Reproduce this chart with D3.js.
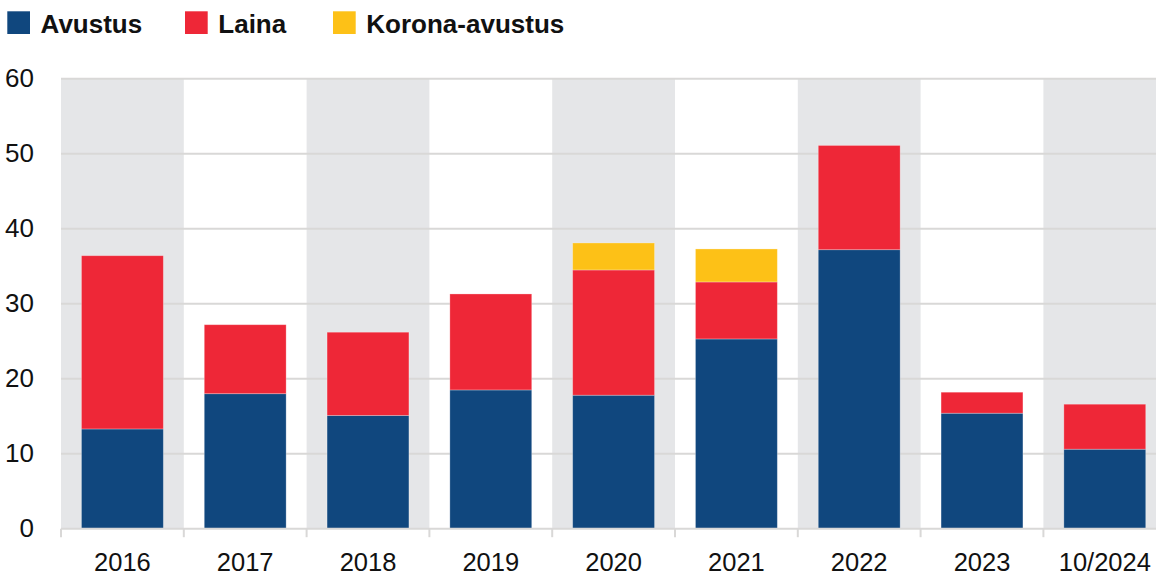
<!DOCTYPE html>
<html>
<head>
<meta charset="utf-8">
<script src="https://cdn.jsdelivr.net/npm/d3@7"></script>
<style>
  html, body { margin: 0; padding: 0; background: #fff; }
  svg { display: block; }
</style>
</head>
<body>
<svg id="chart" width="1156" height="576"></svg>
<script>
const categories = ["2016", "2017", "2018", "2019", "2020", "2021", "2022", "2023", "10/2024"];
const seriesNames = ["Avustus", "Laina", "Korona-avustus"];
const avustus = [13.3, 18.0, 15.1, 18.5, 17.8, 25.3, 37.2, 15.4, 10.6];
const laina   = [23.1, 9.2, 11.1, 12.8, 16.7, 7.6, 13.9, 2.8, 6.0];
const korona  = [0, 0, 0, 0, 3.6, 4.4, 0, 0, 0];
const yTicks = [0, 10, 20, 30, 40, 50, 60];
const colors = ["#10477e", "#ee2737", "#fdc117"];

(function () {
const svg = d3.select("#chart");
const plotLeft = 61, plotTop = 78.7, plotBottom = 528.7;
const step = 122.8;

const x = d3.scaleBand()
  .domain(categories)
  .range([plotLeft, plotLeft + step * categories.length])
  .paddingInner(1/3)
  .paddingOuter(1/6);

const y = d3.scaleLinear().domain([0, 60]).range([plotBottom, plotTop]);

const font = "'Liberation Sans', Arial, Helvetica, sans-serif";

// alternating band backgrounds
svg.append("g").selectAll("rect")
  .data(categories.filter((d, i) => i % 2 === 0))
  .join("rect")
  .attr("x", d => x(d) - x.step() * x.paddingInner() / 2)
  .attr("width", x.step())
  .attr("y", y(60))
  .attr("height", y(0) - y(60))
  .attr("fill", "#e5e6e8");

// gridlines
svg.append("g").selectAll("line")
  .data(yTicks.filter(d => d > 0))
  .join("line")
  .attr("x1", plotLeft).attr("x2", 1156)
  .attr("y1", d => y(d)).attr("y2", d => y(d))
  .attr("stroke", "#d9d8d7").attr("stroke-width", 2);

// stacked data
const rows = categories.map((c, i) => ({ cat: c, "Avustus": avustus[i], "Laina": laina[i], "Korona-avustus": korona[i] }));
const stack = d3.stack().keys(seriesNames)(rows);

svg.append("g").selectAll("g")
  .data(stack)
  .join("g")
  .attr("fill", (d, i) => colors[i])
  .selectAll("rect")
  .data(d => d.filter(p => p[1] - p[0] > 0))
  .join("rect")
  .attr("x", p => x(p.data.cat))
  .attr("width", x.bandwidth())
  .attr("y", p => y(p[1]))
  .attr("height", p => y(p[0]) - y(p[1]))
  .attr("stroke", "rgba(255,255,255,0.35)")
  .attr("stroke-width", 0.8);

// x axis line and ticks
const axisG = svg.append("g");
axisG.append("line")
  .attr("x1", plotLeft).attr("x2", 1156)
  .attr("y1", y(0)).attr("y2", y(0))
  .attr("stroke", "#d9d8d7").attr("stroke-width", 2);
const boundaries = categories.map(c => x(c) - x.step() * x.paddingInner() / 2);
axisG.selectAll("line.tick")
  .data(boundaries)
  .join("line")
  .attr("class", "tick")
  .attr("x1", d => d).attr("x2", d => d)
  .attr("y1", y(0)).attr("y2", y(0) + 8.5)
  .attr("stroke", "#d9d8d7").attr("stroke-width", 2);

// x labels
svg.append("g").selectAll("text")
  .data(categories)
  .join("text")
  .attr("x", d => x(d) + x.bandwidth() / 2)
  .attr("y", 571.2)
  .attr("text-anchor", "middle")
  .attr("font-family", font)
  .attr("font-size", 25.5)
  .attr("fill", "#111")
  .text(d => d);

// y labels
svg.append("g").selectAll("text")
  .data(yTicks)
  .join("text")
  .attr("x", 34)
  .attr("y", d => y(d) + 8)
  .attr("text-anchor", "end")
  .attr("font-family", font)
  .attr("font-size", 26)
  .attr("fill", "#111")
  .text(d => d);

// legend
const legendX = [7.3, 185, 333];
const leg = svg.append("g").selectAll("g")
  .data(seriesNames)
  .join("g")
  .attr("transform", (d, i) => `translate(${legendX[i]},0)`);
leg.append("rect")
  .attr("x", 0).attr("y", 11.3)
  .attr("width", 22.7).attr("height", 22.7)
  .attr("fill", (d, i) => colors[i]);
leg.append("text")
  .attr("x", 33.3).attr("y", 33.3)
  .attr("font-family", font)
  .attr("font-weight", "bold")
  .attr("font-size", 26)
  .attr("fill", "#111")
  .text(d => d);
})();
</script>
</body>
</html>
